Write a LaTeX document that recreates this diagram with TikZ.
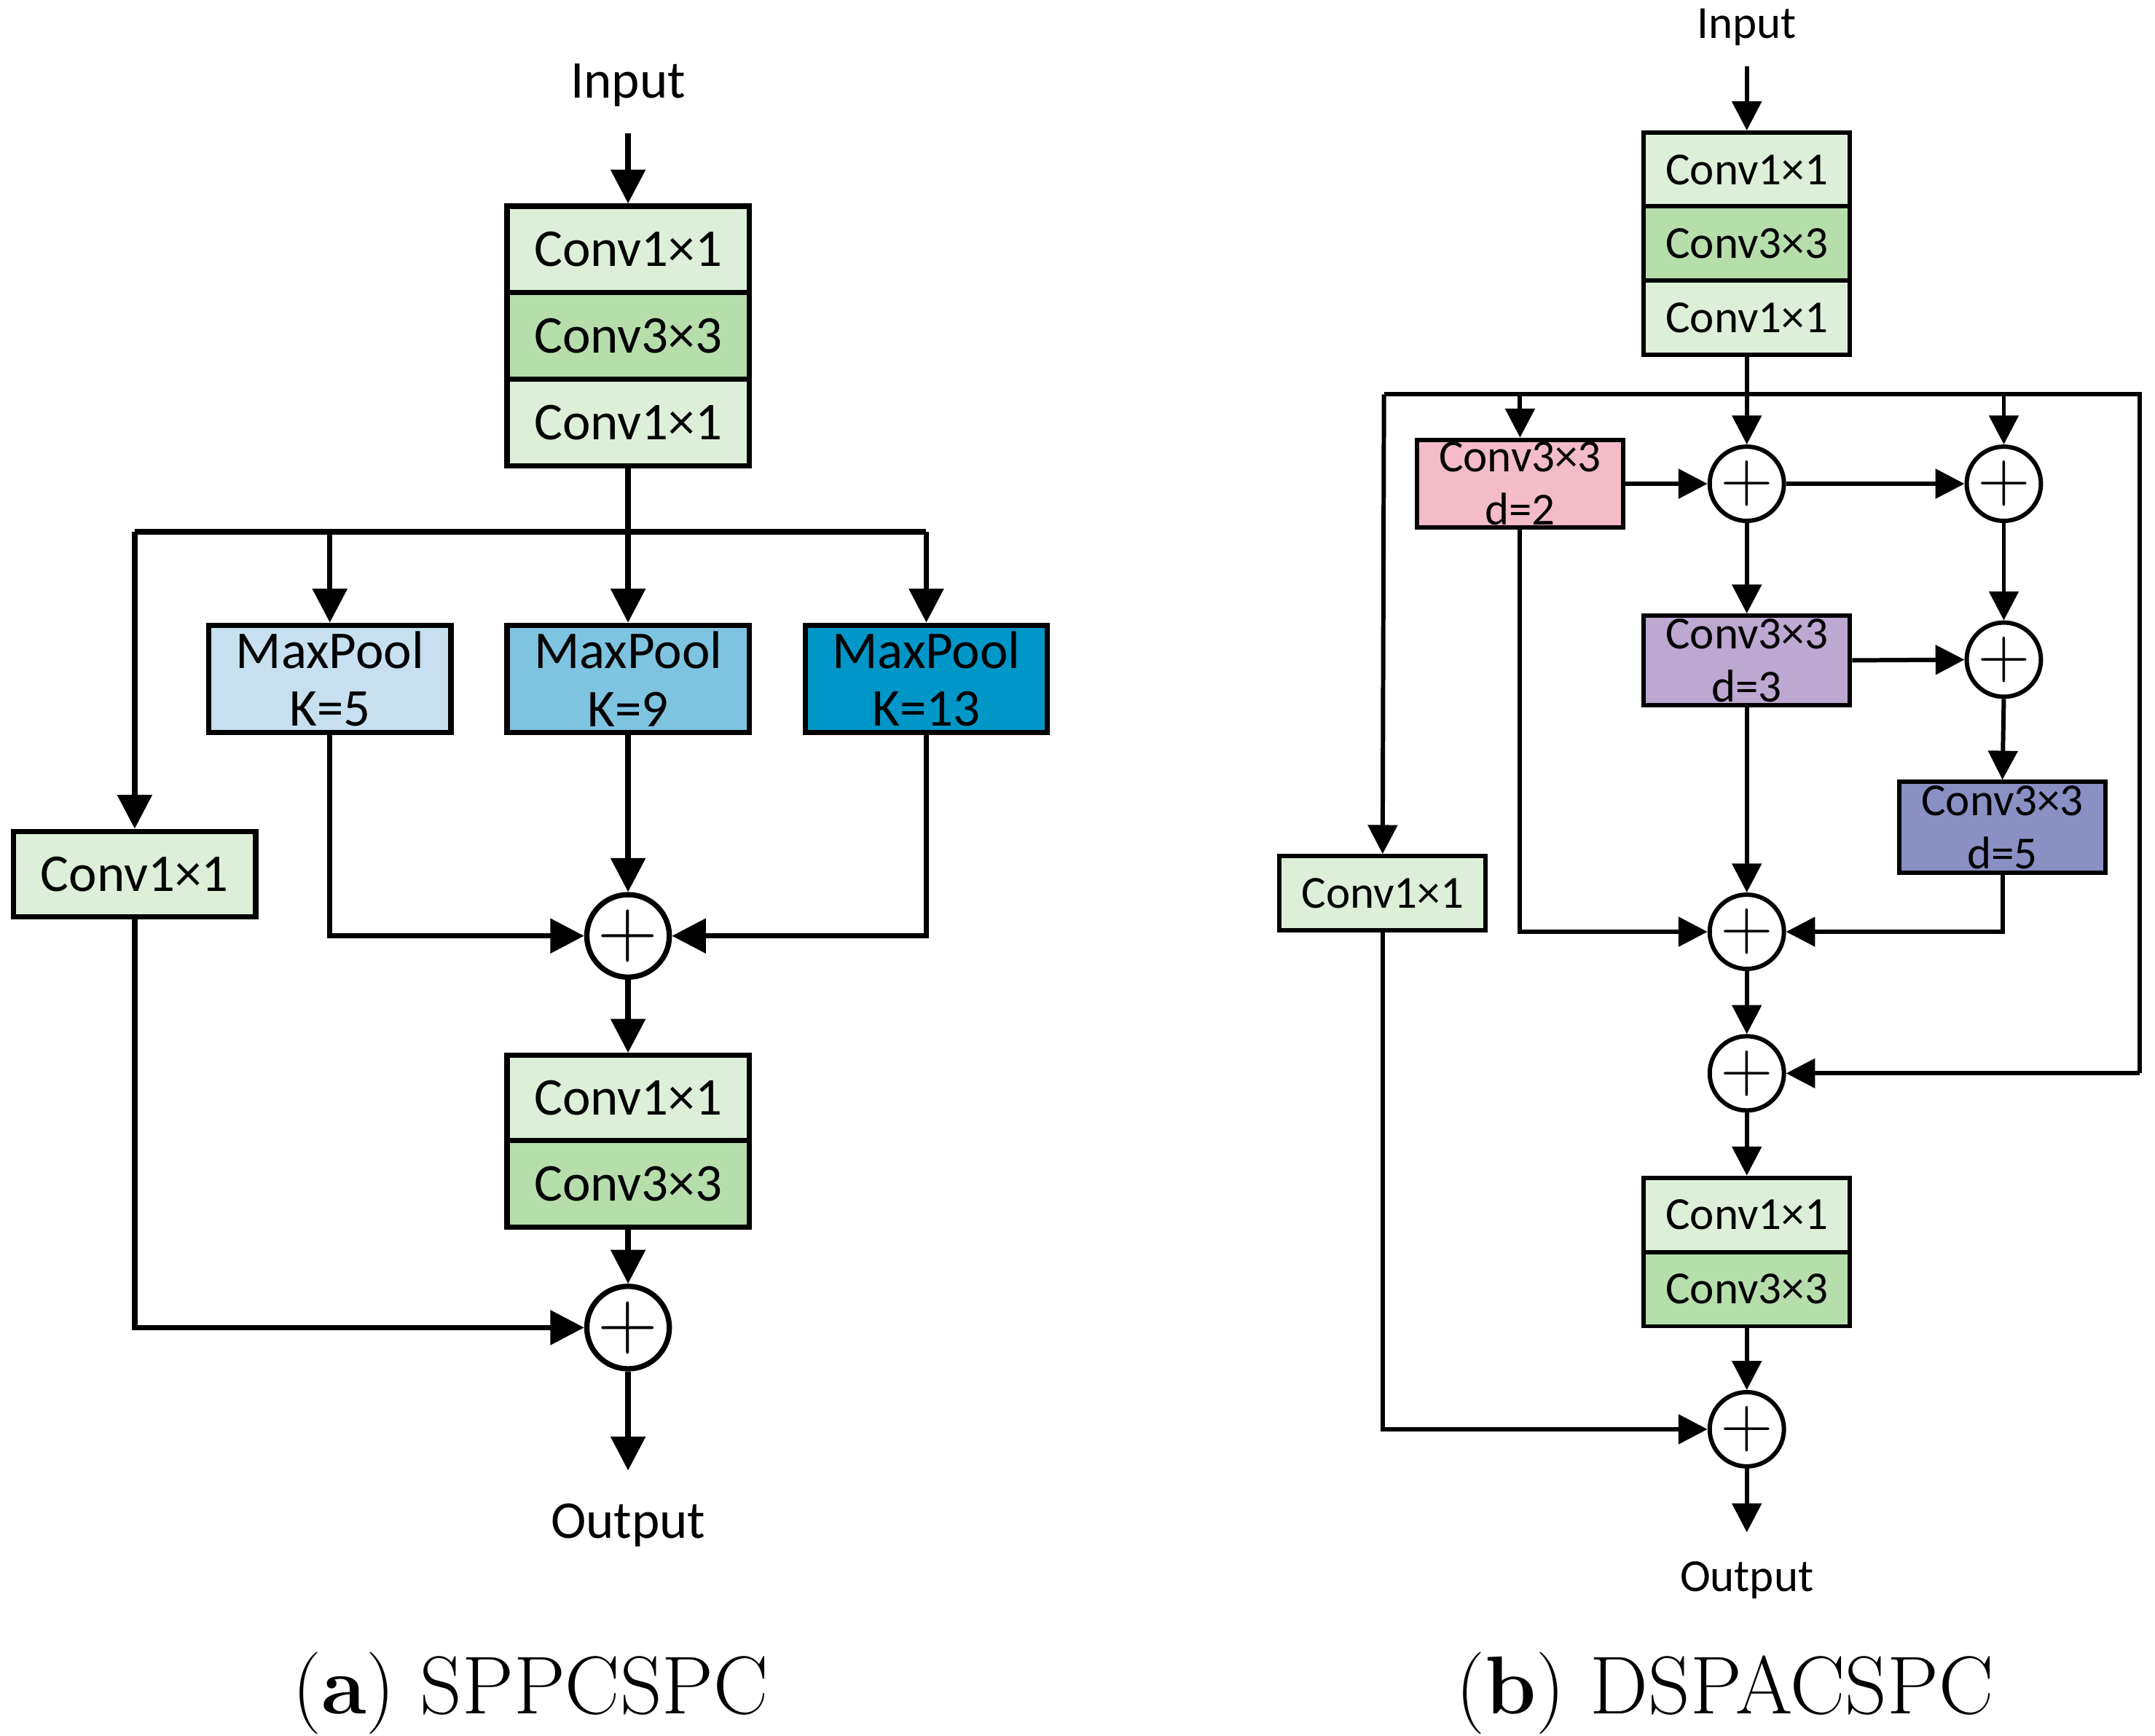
\documentclass[tikz,border=0pt]{standalone}
\usepackage{fontspec}
\setmainfont{Carlito}
\newfontfamily\capfont{Latin Modern Roman}
\usetikzlibrary{arrows.meta,calc}
\definecolor{lg}{HTML}{DDEFD8}
\definecolor{mg}{HTML}{B5DEAB}
\definecolor{b1}{HTML}{C6E0F0}
\definecolor{b2}{HTML}{7EC4E0}
\definecolor{b3}{HTML}{0096C8}
\definecolor{pk}{HTML}{F4BCC8}
\definecolor{pu}{HTML}{BCA8D1}
\definecolor{bp}{HTML}{8A90C4}
\begin{document}
\begin{tikzpicture}[x=0.01cm,y=-0.01cm,
 bl/.style={draw,line width=1.1pt,minimum width=1.76cm,minimum height=0.63cm,inner sep=0,font=\fontsize{11}{12}\selectfont,align=center},
 br/.style={draw,line width=0.9pt,minimum width=1.5cm,minimum height=0.54cm,inner sep=0,font=\fontsize{9.5}{11}\selectfont,align=center},
 pl/.style={draw,circle,line width=1.1pt,minimum size=0.6cm,inner sep=0,font=\fontsize{16}{16}\selectfont},
 pr/.style={draw,circle,line width=0.9pt,minimum size=0.54cm,inner sep=0,font=\fontsize{14}{14}\selectfont},
 al/.style={line width=1.1pt,-{Triangle[length=7pt,width=7pt]}},
 ar/.style={line width=0.9pt,-{Triangle[length=6pt,width=6pt]}},
 ln/.style={line width=1.1pt},
 lr/.style={line width=0.9pt}]
\useasboundingbox (0,0) rectangle (1568,1263);
% ---------- left
\node[font=\fontsize{11}{12}\selectfont] (inL) at (457,62) {Input};
\coordinate (inLb) at (457,97);
\node[bl,fill=lg] (a1) at (457,181.5) {Conv1×1};
\node[bl,fill=mg] (a2) at (457,244.5) {Conv3×3};
\node[bl,fill=lg] (a3) at (457,307.5) {Conv1×1};
\draw[al] (inLb) -- (a1.north);
\node[bl,fill=b1,minimum height=0.78cm] (m1) at (240,494) {MaxPool\\K=5};
\node[bl,fill=b2,minimum height=0.78cm] (m2) at (457,494) {MaxPool\\K=9};
\node[bl,fill=b3,minimum height=0.78cm] (m3) at (674,494) {MaxPool\\K=13};
\node[bl,fill=lg,minimum height=0.62cm] (c1) at (98,636) {Conv1×1};
\coordinate (jL) at (457,387);
\draw[ln] (98,387) -- (674,387);
\draw[ln] (a3.south) -- (jL);
\draw[al] (98,387) -- (c1.north);
\draw[al] (240,387) -- (m1.north);
\draw[al] (jL) -- (m2.north);
\draw[al] (674,387) -- (m3.north);
\node[pl] (p1) at (457,681) {$+$};
\draw[al] (m2.south) -- (p1.north);
\draw[al] (m1.south) |- (p1.west);
\draw[al] (m3.south) |- (p1.east);
\node[bl,fill=lg,minimum height=0.62cm] (a4) at (457,799) {Conv1×1};
\node[bl,fill=mg,minimum height=0.63cm] (a5) at (457,861.5) {Conv3×3};
\draw[al] (p1.south) -- (a4.north);
\node[pl] (p2) at (457,966) {$+$};
\draw[al] (a5.south) -- (p2.north);
\draw[al] (c1.south) |- (p2.west);
\node[font=\fontsize{11}{12}\selectfont] (outL) at (457,1110) {Output};
\draw[al] (p2.south) -- (457,1070);
% ---------- right
\node[font=\fontsize{9.5}{11}\selectfont] (inR) at (1271,20) {Input};
\node[br,fill=lg] (b1) at (1271,123.5) {Conv1×1};
\node[br,fill=mg] (b2) at (1271,177) {Conv3×3};
\node[br,fill=lg] (b3) at (1271,231) {Conv1×1};
\draw[ar] (1271,48) -- (b1.north);
\coordinate (jR) at (1271,287);
\draw[lr] (b3.south) -- (jR);
\draw[lr] (1007,287) -- (1557,287) -- (1557,781);
\node[br,fill=pk,minimum height=0.64cm] (d2) at (1106,352) {Conv3×3\\d=2};
\node[br,fill=pu,minimum height=0.65cm] (d3) at (1271,480.5) {Conv3×3\\d=3};
\node[br,fill=bp,minimum height=0.66cm] (d5) at (1457,602) {Conv3×3\\d=5};
\node[br,fill=lg] (c2) at (1006,650) {Conv1×1};
\node[pr] (q1) at (1271,352) {$+$};
\node[pr] (q2) at (1458,352) {$+$};
\node[pr] (q3) at (1458,480) {$+$};
\node[pr] (q4) at (1271,678) {$+$};
\node[pr] (q5) at (1271,781) {$+$};
\node[pr] (q6) at (1271,1040) {$+$};
\draw[ar] (1007,287) -- (c2.north);
\draw[ar] (1106,287) -- (d2.north);
\draw[ar] (jR) -- (q1.north);
\draw[ar] (1458,287) -- (q2.north);
\draw[ar] (d2.east) -- (q1.west);
\draw[ar] (q1.east) -- (q2.west);
\draw[ar] (q1.south) -- (d3.north);
\draw[ar] (q2.south) -- (q3.north);
\draw[ar] (d3.east) -- (q3.west);
\draw[ar] (q3.south) -- (d5.north);
\draw[ar] (d2.south) |- (q4.west);
\draw[ar] (d3.south) -- (q4.north);
\draw[ar] (d5.south) |- (q4.east);
\draw[ar] (q4.south) -- (q5.north);
\draw[ar] (1557,781) -- (q5.east);
\node[br,fill=lg] (b4) at (1271,884) {Conv1×1};
\node[br,fill=mg] (b5) at (1271,938) {Conv3×3};
\draw[ar] (q5.south) -- (b4.north);
\draw[ar] (b5.south) -- (q6.north);
\draw[ar] (c2.south) |- (q6.west);
\node[font=\fontsize{9.5}{11}\selectfont] (outR) at (1271,1150) {Output};
\draw[ar] (q6.south) -- (1271,1115);
% captions
\node[font=\capfont\fontsize{17}{18}\selectfont] (capa) at (386,1232) {(\textbf{a}) SPPCSPC};
\node[font=\capfont\fontsize{17}{18}\selectfont] (capb) at (1255,1232) {(\textbf{b}) DSPACSPC};
\end{tikzpicture}
\end{document}
